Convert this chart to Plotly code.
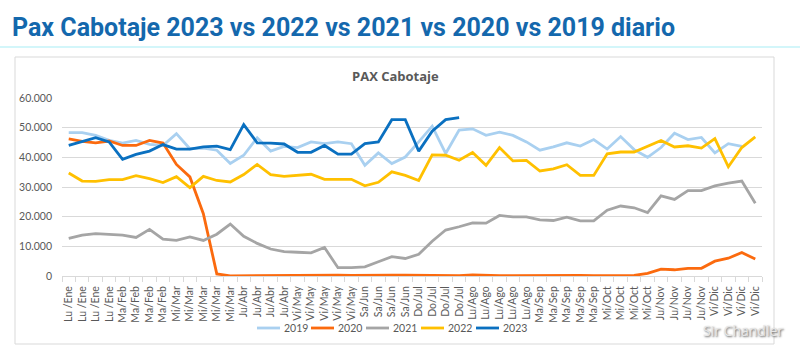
import plotly.graph_objects as go

# ---------------- data ----------------
week_labels = (["Lu /Ene"] * 4 + ["Ma/Feb"] * 4 + ["Mi/Mar"] * 5 + ["Ju/Abr"] * 4 +
               ["Vi/May"] * 5 + ["Sa/Jun"] * 4 + ["Do/Jul"] * 4 + ["Lu/Ago"] * 5 +
               ["Ma/Sep"] * 5 + ["Mi/Oct"] * 4 + ["Ju/Nov"] * 4 + ["Vi/Dic"] * 4)

pax_2019 = [48300, 48300, 47400, 45700, 44800, 45700, 44400, 44000, 48000, 42900,
            43100, 42400, 37900, 40700, 46600, 42100, 43700, 43300, 45200, 44600,
            45200, 44600, 37300, 41500, 37900, 40100, 45200, 50500, 41300, 49200,
            49600, 47400, 48500, 47400, 45200, 42400, 43500, 44900, 43800, 46000,
            42800, 47000, 42600, 40000, 43300, 48100, 46000, 46700, 41500, 44600,
            43700, None]

pax_2020 = [46200, 45400, 44900, 45500, 44000, 44000, 45700, 44800, 37600, 33400,
            21000, 700, 50, 100, 100, 150, 150, 200, 200, 250,
            250, 200, 150, 200, 250, 300, 250, 150, 100, 150,
            400, 150, 100, 150, 200, 150, 100, 150, 200, 150,
            100, 150, 200, 900, 2300, 2100, 2600, 2600, 5000, 6000,
            7900, 5700]

pax_2021 = [12700, 13800, 14300, 14100, 13800, 13000, 15700, 12400, 12000, 13200,
            12000, 14100, 17500, 13400, 11000, 9100, 8200, 8000, 7800, 9600,
            2800, 2800, 3100, 4800, 6500, 5900, 7300, 11700, 15500, 16600,
            17900, 17800, 20400, 19900, 19900, 18900, 18700, 19800, 18600, 18600,
            22200, 23600, 23000, 21400, 27000, 25800, 28800, 28800, 30400, 31300,
            32000, 24500]

pax_2022 = [34700, 32000, 31900, 32500, 32500, 33800, 32800, 31500, 33500, 29800,
            33600, 32200, 31700, 34200, 37600, 34200, 33600, 33900, 34300, 32600,
            32600, 32600, 30400, 31600, 35100, 33900, 32200, 40800, 40700, 39000,
            41600, 37300, 43300, 38800, 39000, 35400, 36100, 37500, 33900, 33900,
            41200, 41800, 41800, 43800, 45700, 43500, 43900, 43100, 46300, 36800,
            43300, 46900]

pax_2023 = [44000, 45400, 46600, 45200, 39300, 41000, 42100, 44300, 42800, 42800,
            43500, 43800, 42600, 51000, 44900, 44800, 44500, 41700, 41700, 44000,
            41100, 41100, 44600, 45200, 52700, 52700, 42100, 48800, 52700, 53400]

series_names = ["2019", "2020", "2021", "2022", "2023"]
series_values = [pax_2019, pax_2020, pax_2021, pax_2022, pax_2023]
series_colors = ["#a9d0f0", "#fb6a0e", "#a5a5a5", "#ffc000", "#0a70c0"]

# ---------------- layout helpers (pixel -> paper) ----------------
W, H = 800, 354
PL, PR, PT, PB = 62, 762, 98, 276


def px(x):
    return (x - PL) / (PR - PL)


def py(y):
    return (PB - y) / (PB - PT)


fig = go.Figure()
for name, vals, col in zip(series_names, series_values, series_colors):
    fig.add_trace(go.Scatter(
        x=list(range(len(vals))), y=vals, name=name, mode="lines",
        line=dict(color=col, width=2.8), showlegend=False,
        hovertemplate="%{y}<extra>" + name + "</extra>"))

shapes = []
annotations = []

# outer chart box
shapes.append(dict(type="rect", xref="paper", yref="paper", layer="below",
                   x0=px(15), x1=px(774), y0=py(57), y1=py(344),
                   line=dict(color="#d9d9d9", width=1), fillcolor="white"))
# header underline
shapes.append(dict(type="line", xref="paper", yref="paper",
                   x0=px(0), x1=px(800), y0=py(47), y1=py(47),
                   line=dict(color="#a8eef5", width=1.2)))

# main title
annotations.append(dict(text="<b>Pax Cabotaje 2023 vs 2022 vs 2021 vs 2020 vs 2019 diario</b>",
                        xref="paper", yref="paper", x=px(10), y=py(27),
                        xanchor="left", yanchor="middle", showarrow=False,
                        font=dict(family="Roboto", size=25, color="#1468ad")))
# chart title
annotations.append(dict(text="<b>PAX Cabotaje</b>", xref="paper", yref="paper",
                        x=px(395), y=py(76), xanchor="center", yanchor="middle",
                        showarrow=False,
                        font=dict(family="Open Sans", size=13, color="#595959")))

# custom legend
leg_x = [257, 311, 366, 421, 476]
for name, col, lx in zip(series_names, series_colors, leg_x):
    shapes.append(dict(type="line", xref="paper", yref="paper",
                       x0=px(lx), x1=px(lx + 23), y0=py(328), y1=py(328),
                       line=dict(color=col, width=2.8)))
    annotations.append(dict(text=name, xref="paper", yref="paper",
                            x=px(lx + 25), y=py(328), xanchor="left", yanchor="middle",
                            showarrow=False,
                            font=dict(family="Lato", size=10.5, color="#595959")))

# watermark
annotations.append(dict(text="Sir Chandler", xref="paper", yref="paper",
                        x=px(743), y=py(330), xanchor="center", yanchor="middle",
                        showarrow=False,
                        font=dict(family="Open Sans", size=14, color="#e6e6e6",
                                  shadow="1px 1px 2px #555555")))

fig.update_layout(
    width=W, height=H,
    margin=dict(l=PL, r=W - PR, t=PT, b=H - PB, pad=0),
    paper_bgcolor="white", plot_bgcolor="white",
    separators=",.",
    shapes=shapes, annotations=annotations,
    showlegend=False,
)

fig.update_xaxes(
    range=[-0.5, len(week_labels) - 0.5],
    tickmode="array", tickvals=list(range(len(week_labels))), ticktext=week_labels,
    tickangle=-90, ticks="", ticklabelstandoff=5,
    tickfont=dict(family="Lato", size=10.5, color="#595959"),
    showgrid=False, zeroline=False,
    showline=True, linecolor="#d9d9d9", linewidth=1,
    minor=dict(ticks="outside", tick0=-0.5, dtick=1, ticklen=5,
               tickcolor="#d9d9d9", showgrid=False),
)
fig.update_yaxes(
    range=[0, 60000], tickmode="array", tickvals=[0, 10000, 20000, 30000, 40000, 50000, 60000],
    tickformat=",d", ticks="", ticklabelstandoff=9,
    tickfont=dict(family="Lato", size=10.5, color="#595959"),
    showgrid=True, gridcolor="#d9d9d9", gridwidth=1, zeroline=False,
    showline=False,
)

fig.write_html("out.html")
